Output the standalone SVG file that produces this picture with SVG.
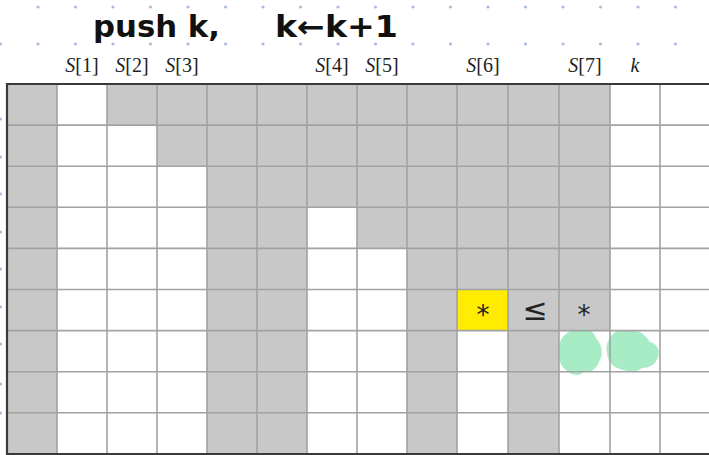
<svg xmlns="http://www.w3.org/2000/svg" width="709" height="455" viewBox="0 0 709 455">
<style>
.dot{fill:#a9bcdc}
.g{fill:#c8c8c8}
.w{fill:#ffffff}
.y{fill:#ffec00}
.lbl{font-family:"Liberation Serif","DejaVu Serif",serif;font-size:20px;fill:#222}
.it{font-style:italic}
.hand{font-family:"DejaVu Sans","Liberation Sans",sans-serif;font-weight:bold;font-size:30px;fill:#111}
.sym{font-family:"DejaVu Sans","Liberation Sans",sans-serif;font-size:26px;fill:#222;text-anchor:middle}
.le{font-size:30px}
.gl{stroke:#a2a2a2;stroke-width:1.6;fill:none}
.border{stroke:#3a3a3a;stroke-width:2.2;fill:none}
.blob{fill:#a8ecc6}
</style>
<rect width="709" height="455" fill="#ffffff"/>
<g id="dots">
<circle class="dot" cx="38" cy="7" r="1.6"/><circle class="dot" cx="75.5" cy="7" r="1.6"/><circle class="dot" cx="113" cy="7" r="1.6"/><circle class="dot" cx="150.5" cy="7" r="1.6"/><circle class="dot" cx="188" cy="7" r="1.6"/><circle class="dot" cx="225.5" cy="7" r="1.6"/><circle class="dot" cx="263" cy="7" r="1.6"/><circle class="dot" cx="300.5" cy="7" r="1.6"/><circle class="dot" cx="338" cy="7" r="1.6"/><circle class="dot" cx="375.5" cy="7" r="1.6"/><circle class="dot" cx="413" cy="7" r="1.6"/><circle class="dot" cx="450.5" cy="7" r="1.6"/><circle class="dot" cx="488" cy="7" r="1.6"/><circle class="dot" cx="525.5" cy="7" r="1.6"/><circle class="dot" cx="563" cy="7" r="1.6"/><circle class="dot" cx="600.5" cy="7" r="1.6"/><circle class="dot" cx="638" cy="7" r="1.6"/><circle class="dot" cx="675.5" cy="7" r="1.6"/>
<circle class="dot" cx="38" cy="44" r="1.6"/><circle class="dot" cx="75.5" cy="44" r="1.6"/><circle class="dot" cx="113" cy="44" r="1.6"/><circle class="dot" cx="150.5" cy="44" r="1.6"/><circle class="dot" cx="188" cy="44" r="1.6"/><circle class="dot" cx="225.5" cy="44" r="1.6"/><circle class="dot" cx="263" cy="44" r="1.6"/><circle class="dot" cx="300.5" cy="44" r="1.6"/><circle class="dot" cx="338" cy="44" r="1.6"/><circle class="dot" cx="375.5" cy="44" r="1.6"/><circle class="dot" cx="413" cy="44" r="1.6"/><circle class="dot" cx="450.5" cy="44" r="1.6"/><circle class="dot" cx="488" cy="44" r="1.6"/><circle class="dot" cx="525.5" cy="44" r="1.6"/><circle class="dot" cx="563" cy="44" r="1.6"/><circle class="dot" cx="600.5" cy="44" r="1.6"/><circle class="dot" cx="638" cy="44" r="1.6"/><circle class="dot" cx="675.5" cy="44" r="1.6"/>
<circle class="dot" cx="0.5" cy="44" r="1.6"/><circle class="dot" cx="0.5" cy="119" r="1.6"/><circle class="dot" cx="0.5" cy="157" r="1.6"/><circle class="dot" cx="0.5" cy="194" r="1.6"/><circle class="dot" cx="0.5" cy="232" r="1.6"/><circle class="dot" cx="0.5" cy="269" r="1.6"/><circle class="dot" cx="0.5" cy="307" r="1.6"/><circle class="dot" cx="0.5" cy="344" r="1.6"/><circle class="dot" cx="0.5" cy="384" r="1.6"/><circle class="dot" cx="0.5" cy="413" r="1.6"/>
</g>
<g id="title">
<text class="hand" x="93" y="37" textLength="127" lengthAdjust="spacingAndGlyphs">push k,</text>
<text class="hand" x="275" y="37" textLength="123" lengthAdjust="spacingAndGlyphs">k←k+1</text>
</g>
<g id="labels">
<text class="lbl" x="82" y="72" text-anchor="middle"><tspan class="it">S</tspan>[1]</text>
<text class="lbl" x="132" y="72" text-anchor="middle"><tspan class="it">S</tspan>[2]</text>
<text class="lbl" x="182" y="72" text-anchor="middle"><tspan class="it">S</tspan>[3]</text>
<text class="lbl" x="332" y="72" text-anchor="middle"><tspan class="it">S</tspan>[4]</text>
<text class="lbl" x="382" y="72" text-anchor="middle"><tspan class="it">S</tspan>[5]</text>
<text class="lbl" x="483" y="72" text-anchor="middle"><tspan class="it">S</tspan>[6]</text>
<text class="lbl" x="585" y="72" text-anchor="middle"><tspan class="it">S</tspan>[7]</text>
<text class="lbl it" x="635" y="72" text-anchor="middle">k</text>
</g>
<g id="cells">
<rect class="g" x="7" y="84" width="50" height="370"/>
<rect class="g" x="207" y="84" width="100" height="370"/>
<rect class="g" x="407" y="84" width="50" height="370"/>
<rect class="g" x="508" y="84" width="51" height="370"/>
<rect class="g" x="107" y="84" width="100" height="41"/>
<rect class="g" x="157" y="125" width="50" height="41"/>
<rect class="g" x="307" y="84" width="100" height="123"/>
<rect class="g" x="357" y="207" width="50" height="41"/>
<rect class="g" x="457" y="84" width="153" height="246"/>
<rect id="yellow" class="y" x="457" y="289.5" width="51" height="41"/>
</g>
<g id="marks">
<path class="blob" d="M566,334 C570,329 578,331 582,329 C590,328 594,333 596,338 C601,343 604,352 600,360 C597,368 592,373 584,372 C578,377 570,375 566,370 C560,366 558,358 560,350 C558,344 561,338 566,334 Z"/>
<path class="blob" d="M614,333 C620,328 628,331 634,331 C640,330 646,336 650,342 C656,343 661,350 658,357 C656,364 650,368 642,368 C636,373 628,372 620,369 C612,367 607,360 607,352 C605,345 609,338 614,333 Z"/>
</g>
<g id="grid">
<path class="gl" d="M57,84V454M107,84V454M157,84V454M207,84V454M257,84V454M307,84V454M357,84V454M407,84V454M457,84V454M508,84V454M559,84V454M610,84V454M660,84V454"/>
<path class="gl" d="M7,125.1H709M7,166.2H709M7,207.3H709M7,248.4H709M7,289.5H709M7,330.6H709M7,371.7H709M7,412.8H709"/>
<path class="border" d="M709,84H7V454H709"/>
</g>
<g id="symbols">
<text class="sym" x="483" y="324">*</text>
<text class="sym le" x="535" y="320">≤</text>
<text class="sym" x="584" y="324">*</text>
</g>
</svg>
